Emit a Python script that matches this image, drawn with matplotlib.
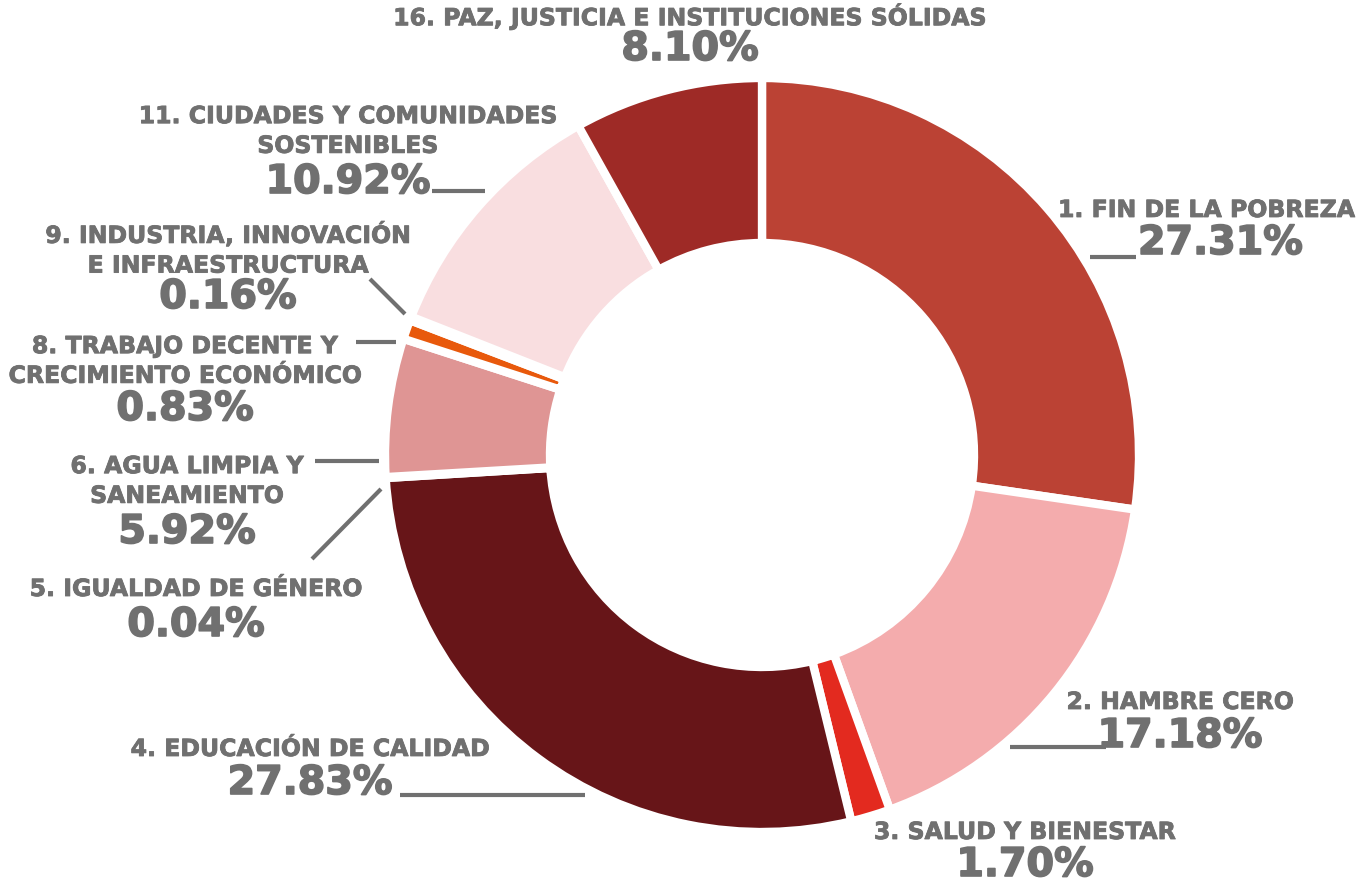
import matplotlib
matplotlib.use("Agg")
import matplotlib.pyplot as plt
import matplotlib.patheffects as pe

# data
objetivos = ["1. FIN DE LA POBREZA", "2. HAMBRE CERO", "3. SALUD Y BIENESTAR",
             "4. EDUCACIÓN DE CALIDAD", "5. IGUALDAD DE GÉNERO",
             "6. AGUA LIMPIA Y\nSANEAMIENTO",
             "8. TRABAJO DECENTE Y\nCRECIMIENTO ECONÓMICO",
             "9. INDUSTRIA, INNOVACIÓN\nE INFRAESTRUCTURA",
             "11. CIUDADES Y COMUNIDADES\nSOSTENIBLES",
             "16. PAZ, JUSTICIA E INSTITUCIONES SÓLIDAS"]
porcentajes = [27.31, 17.18, 1.70, 27.83, 0.04, 5.92, 0.83, 0.16, 10.92, 8.10]
colores = ["#BB4234", "#F4ACAD", "#E32A1F", "#671518", "#C0392B",
           "#DF9594", "#E8590C", "#F2C9CD", "#F9DEE0", "#9E2A26"]

W, H = 1362, 887
GRIS = "#707070"


def Y(y):
    # pixel rows counted from the top
    return H - y


def main():
    fig = plt.figure(figsize=(W / 100, H / 100), dpi=100)
    ax = fig.add_axes([0, 0, 1, 1])

    ax.pie(porcentajes, colors=colores, center=(762, Y(456)), radius=377,
           startangle=90, counterclock=False, frame=True,
           wedgeprops=dict(width=165, edgecolor="white", linewidth=6))
    ax.set_xlim(0, W)
    ax.set_ylim(0, H)
    ax.set_aspect("equal")
    ax.axis("off")

    # label blocks: (name x, name y, pct y, ha)
    pos = [(1058, 211, 244, "left"), (1180, 703, 737, "center"),
           (1025, 833, 866, "center"), (310, 750, 784, "center"),
           (196, 590, 626, "center"), (187, 482, 533, "center"),
           (185, 362, 410, "center"), (228, 250, 298, "center"),
           (348, 132, 183, "center"), (690, 17, 50, "center")]
    grueso1 = [pe.withStroke(linewidth=0.6, foreground=GRIS)]
    grueso2 = [pe.withStroke(linewidth=1.2, foreground=GRIS)]
    for nombre, p, (x, yn, yp, ha) in zip(objetivos, porcentajes, pos):
        ax.text(x, Y(yn), nombre, ha=ha, va="center", fontsize=17,
                fontweight="bold", color=GRIS, linespacing=1.3,
                path_effects=grueso1)
        xp = 1138 if ha == "left" else x
        ax.text(xp, Y(yp), "%.2f%%" % p, ha=ha, va="center", fontsize=28.5,
                fontweight="bold", color=GRIS, path_effects=grueso2)

    # leader lines
    lineas = [((1090, 1136), (258, 258)), ((1010, 1106), (748, 748)),
              ((400, 585), (796, 796)), ((312, 381), (560, 490)),
              ((315, 379), (462, 462)), ((356, 396), (343, 343)),
              ((370, 405), (280, 315)), ((432, 485), (192, 192))]
    for xs, ys in lineas:
        ax.plot(xs, [Y(v) for v in ys], color=GRIS, linewidth=3,
                solid_capstyle="butt")

    fig.savefig("out.png", dpi=100)


if __name__ == "__main__":
    main()
